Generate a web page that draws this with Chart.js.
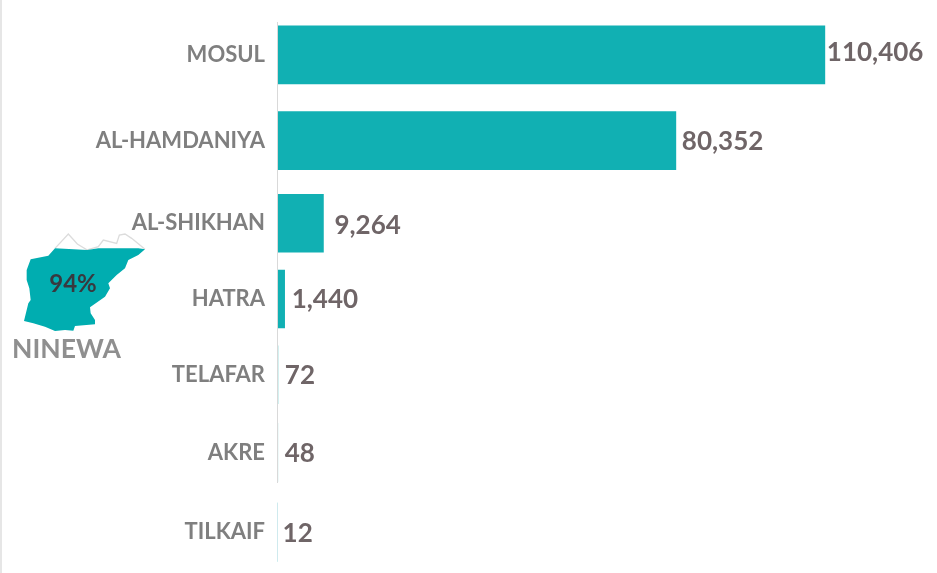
<!DOCTYPE html>
<html>
<head>
<meta charset="utf-8">
<script src="https://cdn.jsdelivr.net/npm/chart.js@4"></script>
<style>
    html, body { margin: 0; padding: 0; background: #fff; }
    #wrap { position: relative; width: 937px; height: 573px; overflow: hidden; }
    #edge { position: absolute; left: 0; top: 0; width: 2px; height: 573px; background: #e6e6e6; }
    #map { position: absolute; left: 0; top: 220px; }
    #pct { position: absolute; left: 23px; width: 100px; top: 268px; text-align: center; font: bold 24px Lato; color: #38393f; }
    #region { position: absolute; left: 12px; top: 332px; font: bold 26.5px Lato; color: #8f8f8f; }
    canvas { position: absolute; left: 0; top: 0; }
</style>
</head>
<body>
<div id="wrap">
    <canvas id="myChart" width="937" height="573"></canvas>
    <div id="edge"></div>
    <svg id="map" width="160" height="130" viewBox="0 0 480 390">
        <polyline fill="none" stroke="#dcdcdc" stroke-width="4" points="165,85 205,42 232,72 262,90 295,80 310,60 350,70 358,45 375,42 395,55 435,88"/>
        <polygon fill="#00adb0" points="165,85 262,90 295,85 415,85 435,88 415,105 385,120 375,145 350,165 325,190 330,205 315,230 270,262 272,280 285,300 285,313 225,318 220,332 195,330 165,333 135,320 100,310 72,303 85,250 92,240 88,205 80,180 80,150 92,118 145,107"/>
    </svg>
    <div id="pct">94%</div>
    <div id="region">NINEWA</div>
</div>
<script>
const districts = ['MOSUL', 'AL-HAMDANIYA', 'AL-SHIKHAN', 'HATRA', 'TELAFAR', 'AKRE', 'TILKAIF'];
const people = [110406, 80352, 9264, 1440, 72, 48, 12];

// the rows in the original are not evenly spaced, px shift per row
const rowShift = [1, 7, 10, 6, 2, 0, 0];
// gap between bar end and its number, and its drop from the bar centre
const labelGap = [2, 6, 11, 7, 7, 7, 5];
const labelDrop = [-2, 1, 2, 1, 1, 1, 1];

class ShiftedCategory extends Chart.CategoryScale {
    getPixelForValue(value, index) {
        const v = typeof value === 'number' ? value : this.parse(value);
        return super.getPixelForValue(v, index) + (rowShift[v] || 0);
    }
}
ShiftedCategory.id = 'shiftedCategory';
ShiftedCategory.defaults = Chart.CategoryScale.defaults;
Chart.register(ShiftedCategory);

// numbers next to the bars
const valueLabels = {
    id: 'valueLabels',
    afterDatasetsDraw(chart) {
        const ctx = chart.ctx;
        ctx.save();
        ctx.font = 'bold 26px Lato';
        ctx.fillStyle = '#6f6567';
        ctx.textBaseline = 'middle';
        chart.getDatasetMeta(0).data.forEach((bar, i) => {
            ctx.fillText(people[i].toLocaleString('en-US'), bar.x + labelGap[i], bar.y + labelDrop[i]);
        });
        ctx.restore();
    }
};

// axis line, broken before the last row
const axisLine = {
    id: 'axisLine',
    afterDatasetsDraw(chart) {
        const ctx = chart.ctx;
        ctx.save();
        ctx.lineWidth = 1;
        ctx.strokeStyle = '#d9d9d9';
        ctx.beginPath();
        ctx.moveTo(277.5, 22);
        ctx.lineTo(277.5, 483);
        ctx.stroke();
        ctx.strokeStyle = '#cfeaee';
        ctx.beginPath();
        ctx.moveTo(277.5, 503);
        ctx.lineTo(277.5, 561);
        ctx.stroke();
        ctx.restore();
    }
};

var myChart = new Chart(document.getElementById('myChart'), {
    type: 'bar',
    data: {
        labels: districts,
        datasets: [{
            data: people,
            backgroundColor: '#11b0b3',
            barThickness: 58
        }]
    },
    plugins: [valueLabels, axisLine],
    options: {
        indexAxis: 'y',
        responsive: false,
        animation: false,
        events: [],
        layout: { padding: { top: 14, right: 15, bottom: 1, left: 0 } },
        plugins: {
            legend: { display: false },
            tooltip: { enabled: false }
        },
        scales: {
            x: { display: false, min: 0, max: 130000 },
            y: {
                type: 'shiftedCategory',
                afterFit: scale => {
                    scale.width = 277.5;
                    scale.paddingTop = 0;
                    scale.paddingBottom = 0;
                },
                border: { display: false },
                grid: { display: false, drawTicks: false },
                ticks: {
                    padding: 12.5,
                    color: '#7f7f7f',
                    font: { family: 'Lato', size: 22, weight: 'bold' }
                }
            }
        }
    }
});
</script>
</body>
</html>
